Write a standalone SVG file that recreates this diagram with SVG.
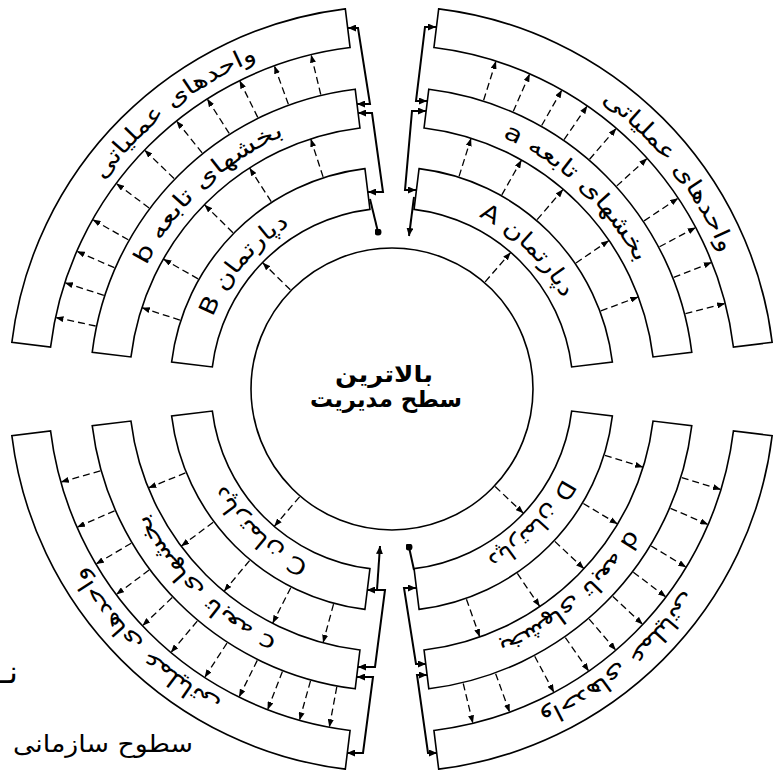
<svg xmlns="http://www.w3.org/2000/svg" xmlns:xlink="http://www.w3.org/1999/xlink" width="773" height="771" viewBox="0 0 773 771">
<style>
.ring{fill:#fff;stroke:#000;stroke-width:1.6;stroke-linejoin:miter}
.da{stroke:#000;stroke-width:1.3;stroke-dasharray:7 4;fill:none;marker-end:url(#ah)}
.br{stroke:#000;stroke-width:2;fill:none}
.lbl{font-family:"DejaVu Sans",sans-serif;font-size:23px;fill:#000;text-anchor:middle}
.ctr{font-family:"DejaVu Sans",sans-serif;font-size:23px;font-weight:bold;fill:#000;text-anchor:middle}
.note{font-family:"DejaVu Sans",sans-serif;font-size:24px;fill:#000}
</style>
<defs>
<marker id="ah" viewBox="0 0 8 6" refX="8" refY="3" markerWidth="8" markerHeight="6" markerUnits="userSpaceOnUse" orient="auto"><path d="M0,0 L8,3 L0,6 z" fill="#000"/></marker>
<marker id="ab" viewBox="0 0 8 7" refX="8" refY="3.5" markerWidth="8" markerHeight="7" markerUnits="userSpaceOnUse" orient="auto-start-reverse"><path d="M0,0 L8,3.5 L0,7 z" fill="#000"/></marker>
<marker id="dot" viewBox="0 0 7 7" refX="3.5" refY="3.5" markerWidth="7" markerHeight="7" markerUnits="userSpaceOnUse"><circle cx="3.5" cy="3.5" r="3.5" fill="#000"/></marker>
<line id="L0" class="da" x1="534" y1="389" x2="573" y2="389"/>
<line id="L1" class="da" x1="615" y1="389" x2="655" y2="389"/>
<line id="L2" class="da" x1="695" y1="389" x2="736" y2="389"/>
<path id="c1" d="M585,389 A193,193 0 0 1 199,389 A193,193 0 0 1 585,389"/>
<path id="c2" d="M667,389 A275,275 0 0 1 117,389 A275,275 0 0 1 667,389"/>
<path id="c3" d="M748,389 A356,356 0 0 1 36,389 A356,356 0 0 1 748,389"/>
</defs>
<rect width="773" height="771" fill="#fff"/>

<g id="center">
<circle cx="392" cy="389" r="141" fill="#fff" stroke="#000" stroke-width="1.6"/>
<text class="ctr" x="384" y="382" textLength="98" lengthAdjust="spacingAndGlyphs">بالاترین</text>
<text class="ctr" x="386" y="407" textLength="152" lengthAdjust="spacingAndGlyphs">سطح مدیریت</text>
</g>

<g id="ring-tr1"><path class="ring" d="M419.06,168.65 A222,222 0 0 1 612.35,361.94 L571.65,366.94 A181,181 0 0 0 414.06,209.35 Z"/>
<text class="lbl" direction="rtl"><textPath href="#c1" startOffset="87.31%" textLength="119" lengthAdjust="spacingAndGlyphs">دپارتمان A</textPath></text></g>
<g id="ring-tr2"><path class="ring" d="M428.80,89.25 A302,302 0 0 1 691.75,352.20 L653.04,356.95 A263,263 0 0 0 424.05,127.96 Z"/>
<text class="lbl" direction="rtl"><textPath href="#c2" startOffset="87.0%" textLength="187" lengthAdjust="spacingAndGlyphs">بخشهای تابعه a</textPath></text></g>
<g id="ring-tr3"><path class="ring" d="M438.68,8.85 A383,383 0 0 1 772.15,342.32 L733.44,347.08 A344,344 0 0 0 433.92,47.56 Z"/>
<text class="lbl" direction="rtl"><textPath href="#c3" startOffset="89.39%" textLength="196" lengthAdjust="spacingAndGlyphs">واحدهای عملیاتی</textPath></text></g>

<g id="ring-tl1"><path class="ring" d="M171.65,361.94 A222,222 0 0 1 364.94,168.65 L369.94,209.35 A181,181 0 0 0 212.35,366.94 Z"/>
<text class="lbl" direction="rtl"><textPath href="#c1" startOffset="61.08%" textLength="122" lengthAdjust="spacingAndGlyphs">دپارتمان B</textPath></text></g>
<g id="ring-tl2"><path class="ring" d="M92.25,352.20 A302,302 0 0 1 355.20,89.25 L359.95,127.96 A263,263 0 0 0 130.96,356.95 Z"/>
<text class="lbl" direction="rtl"><textPath href="#c2" startOffset="63.0%" textLength="193" lengthAdjust="spacingAndGlyphs">بخشهای تابعه b</textPath></text></g>
<g id="ring-tl3"><path class="ring" d="M11.85,342.32 A383,383 0 0 1 345.32,8.85 L350.08,47.56 A344,344 0 0 0 50.56,347.08 Z"/>
<text class="lbl" direction="rtl"><textPath href="#c3" startOffset="64.39%" textLength="198" lengthAdjust="spacingAndGlyphs">واحدهای عملیاتی</textPath></text></g>

<g id="ring-br1"><path class="ring" d="M612.35,416.06 A222,222 0 0 1 419.06,609.35 L414.06,568.65 A181,181 0 0 0 571.65,411.06 Z"/>
<text class="lbl" direction="rtl"><textPath href="#c1" startOffset="12.25%" textLength="111" lengthAdjust="spacingAndGlyphs">دپارتمان D</textPath></text></g>
<g id="ring-br2"><path class="ring" d="M691.75,425.80 A302,302 0 0 1 428.80,688.75 L424.05,650.04 A263,263 0 0 0 653.04,421.05 Z"/>
<text class="lbl" direction="rtl"><textPath href="#c2" startOffset="13.61%" textLength="176" lengthAdjust="spacingAndGlyphs">بخشهای تابعه d</textPath></text></g>
<g id="ring-br3"><path class="ring" d="M772.15,435.68 A383,383 0 0 1 438.68,769.15 L433.92,730.44 A344,344 0 0 0 733.44,430.92 Z"/>
<text class="lbl" direction="rtl"><textPath href="#c3" startOffset="13.89%" textLength="193" lengthAdjust="spacingAndGlyphs">واحدهای عملیاتی</textPath></text></g>

<g id="ring-bl1"><path class="ring" d="M364.94,609.35 A222,222 0 0 1 171.65,416.06 L212.35,411.06 A181,181 0 0 0 369.94,568.65 Z"/>
<text class="lbl" direction="rtl"><textPath href="#c1" startOffset="36.92%" textLength="117" lengthAdjust="spacingAndGlyphs">دپارتمان C</textPath></text></g>
<g id="ring-bl2"><path class="ring" d="M355.20,688.75 A302,302 0 0 1 92.25,425.80 L130.96,421.05 A263,263 0 0 0 359.95,650.04 Z"/>
<text class="lbl" direction="rtl"><textPath href="#c2" startOffset="37.19%" textLength="184" lengthAdjust="spacingAndGlyphs">بخشهای تابعه c</textPath></text></g>
<g id="ring-bl3"><path class="ring" d="M345.32,769.15 A383,383 0 0 1 11.85,435.68 L50.56,430.92 A344,344 0 0 0 350.08,730.44 Z"/>
<text class="lbl" direction="rtl"><textPath href="#c3" startOffset="37.31%" textLength="195" lengthAdjust="spacingAndGlyphs">واحدهای عملیاتی</textPath></text></g>

<g id="connectors">
<use href="#L0" transform="rotate(-49 392 389)"/>
<use href="#L1" transform="rotate(-72.5 392 389)"/>
<use href="#L1" transform="rotate(-60.5 392 389)"/>
<use href="#L1" transform="rotate(-49.4 392 389)"/>
<use href="#L1" transform="rotate(-34.4 392 389)"/>
<use href="#L1" transform="rotate(-20.5 392 389)"/>
<use href="#L2" transform="rotate(-72.4 392 389)"/>
<use href="#L2" transform="rotate(-66.4 392 389)"/>
<use href="#L2" transform="rotate(-60.4 392 389)"/>
<use href="#L2" transform="rotate(-55.4 392 389)"/>
<use href="#L2" transform="rotate(-49.3 392 389)"/>
<use href="#L2" transform="rotate(-42.1 392 389)"/>
<use href="#L2" transform="rotate(-33.7 392 389)"/>
<use href="#L2" transform="rotate(-28 392 389)"/>
<use href="#L2" transform="rotate(-21.6 392 389)"/>
<use href="#L2" transform="rotate(-14.4 392 389)"/>

<use href="#L0" transform="rotate(-135.7 392 389)"/>
<use href="#L1" transform="rotate(-108 392 389)"/>
<use href="#L1" transform="rotate(-122.8 392 389)"/>
<use href="#L1" transform="rotate(-135.5 392 389)"/>
<use href="#L1" transform="rotate(-150.4 392 389)"/>
<use href="#L1" transform="rotate(-162 392 389)"/>
<use href="#L2" transform="rotate(-103.6 392 389)"/>
<use href="#L2" transform="rotate(-110 392 389)"/>
<use href="#L2" transform="rotate(-116.3 392 389)"/>
<use href="#L2" transform="rotate(-122.5 392 389)"/>
<use href="#L2" transform="rotate(-128.8 392 389)"/>
<use href="#L2" transform="rotate(-136 392 389)"/>
<use href="#L2" transform="rotate(-143.3 392 389)"/>
<use href="#L2" transform="rotate(-150.5 392 389)"/>
<use href="#L2" transform="rotate(-156.4 392 389)"/>
<use href="#L2" transform="rotate(-162 392 389)"/>
<use href="#L2" transform="rotate(-168 392 389)"/>

<use href="#L0" transform="rotate(43.4 392 389)"/>
<use href="#L1" transform="rotate(17.3 392 389)"/>
<use href="#L1" transform="rotate(30.9 392 389)"/>
<use href="#L1" transform="rotate(43.1 392 389)"/>
<use href="#L1" transform="rotate(55.8 392 389)"/>
<use href="#L1" transform="rotate(70.5 392 389)"/>
<use href="#L2" transform="rotate(17 392 389)"/>
<use href="#L2" transform="rotate(23.2 392 389)"/>
<use href="#L2" transform="rotate(31.2 392 389)"/>
<use href="#L2" transform="rotate(37.2 392 389)"/>
<use href="#L2" transform="rotate(43.2 392 389)"/>
<use href="#L2" transform="rotate(49.4 392 389)"/>
<use href="#L2" transform="rotate(55.1 392 389)"/>
<use href="#L2" transform="rotate(61.9 392 389)"/>
<use href="#L2" transform="rotate(70 392 389)"/>
<use href="#L2" transform="rotate(76.4 392 389)"/>

<use href="#L0" transform="rotate(130.6 392 389)"/>
<use href="#L1" transform="rotate(157.9 392 389)"/>
<use href="#L1" transform="rotate(143.3 392 389)"/>
<use href="#L1" transform="rotate(129.7 392 389)"/>
<use href="#L1" transform="rotate(117 392 389)"/>
<use href="#L1" transform="rotate(105.2 392 389)"/>
<use href="#L2" transform="rotate(164.3 392 389)"/>
<use href="#L2" transform="rotate(156.3 392 389)"/>
<use href="#L2" transform="rotate(149.4 392 389)"/>
<use href="#L2" transform="rotate(143.3 392 389)"/>
<use href="#L2" transform="rotate(136.5 392 389)"/>
<use href="#L2" transform="rotate(130 392 389)"/>
<use href="#L2" transform="rotate(123 392 389)"/>
<use href="#L2" transform="rotate(116.4 392 389)"/>
<use href="#L2" transform="rotate(111.2 392 389)"/>
<use href="#L2" transform="rotate(105.6 392 389)"/>
<use href="#L2" transform="rotate(100.5 392 389)"/>

<path class="br" d="M436,27 H425 L416,101 H427" marker-start="url(#ab)" marker-end="url(#ab)"/>
<path class="br" d="M426,111 H412 L405,190 H416" marker-start="url(#ab)" marker-end="url(#ab)"/>
<path class="br" d="M414,197 L409,236" marker-end="url(#ab)"/>

<path class="br" d="M348,28 H358 L370,104 H357" marker-start="url(#ab)" marker-end="url(#ab)"/>
<path class="br" d="M358,113 H372 L383,192 H368" marker-start="url(#ab)" marker-end="url(#ab)"/>
<path class="br" d="M370,199 L378,232" marker-end="url(#dot)"/>

<path class="br" d="M409,547 L414,570" marker-start="url(#dot)"/>
<path class="br" d="M416,588 H404 L416,664 H426" marker-start="url(#ab)" marker-end="url(#ab)"/>
<path class="br" d="M427,675 H417 L428,753 H437" marker-start="url(#ab)" marker-end="url(#ab)"/>

<path class="br" d="M377,590 L380,546" marker-end="url(#ab)"/>
<path class="br" d="M367,590 H385 L375,667 H358" marker-start="url(#ab)" marker-end="url(#ab)"/>
<path class="br" d="M357,677 H373 L363,753 H347" marker-start="url(#ab)" marker-end="url(#ab)"/>
</g>

<g id="notes">
<text class="note" x="18" y="683" text-anchor="end" style="font-size:32px">نـ</text>
<text class="note" x="103" y="752" text-anchor="middle" textLength="180" lengthAdjust="spacingAndGlyphs">سطوح سازمانی</text>
</g>
</svg>
